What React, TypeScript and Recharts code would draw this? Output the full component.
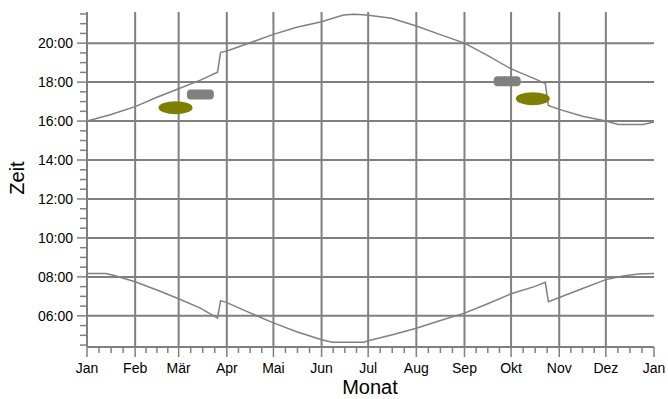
import React from 'react'
import {
  ComposedChart,
  Line,
  Scatter,
  XAxis,
  YAxis,
  ReferenceLine,
} from 'recharts'

// Day of year (0 = 1 Jan) at which each month starts
const monthStarts = [0, 31, 59, 90, 120, 151, 181, 212, 243, 273, 304, 334, 365]
const monthLabels = ['Jan', 'Feb', 'Mär', 'Apr', 'Mai', 'Jun', 'Jul', 'Aug', 'Sep', 'Okt', 'Nov', 'Dez', 'Jan']

// Hour ticks with labels, and the half-hour minor ticks
const hourTicks = [6, 8, 10, 12, 14, 16, 18, 20]
const halfHourTicks = [
  4.5, 5, 5.5, 6, 6.5, 7, 7.5, 8, 8.5, 9, 9.5, 10, 10.5, 11, 11.5, 12, 12.5,
  13, 13.5, 14, 14.5, 15, 15.5, 16, 16.5, 17, 17.5, 18, 18.5, 19, 19.5, 20,
  20.5, 21, 21.5,
]

// Sunset (upper curve), hours
const sunsetDays = [0, 15, 31, 45, 59, 73, 84, 86, 90, 105, 120, 135, 151, 165, 172, 180, 196, 212, 227, 243, 258, 273, 288, 295, 297, 304, 319, 334, 342, 358, 365]
const sunset = [16.0, 16.32, 16.74, 17.22, 17.66, 18.1, 18.51, 19.53, 19.6, 20.02, 20.45, 20.82, 21.1, 21.45, 21.48, 21.45, 21.28, 20.88, 20.45, 20.0, 19.36, 18.68, 18.18, 17.93, 16.8, 16.6, 16.25, 16.0, 15.82, 15.82, 15.95]

// Sunrise (lower curve), hours
const sunriseDays = [0, 12, 17, 31, 45, 59, 73, 84, 86, 90, 105, 120, 135, 151, 158, 172, 178, 181, 196, 212, 227, 243, 258, 273, 288, 295, 297, 304, 319, 334, 345, 355, 365]
const sunrise = [8.17, 8.17, 8.08, 7.75, 7.33, 6.88, 6.4, 5.88, 6.78, 6.68, 6.15, 5.64, 5.18, 4.77, 4.65, 4.65, 4.65, 4.72, 5.02, 5.36, 5.75, 6.14, 6.62, 7.13, 7.5, 7.72, 6.73, 6.94, 7.4, 7.86, 8.05, 8.15, 8.17]

// Marker blobs
const oliveDays = [57, 287]
const oliveHours = [16.69, 17.15]
const greyDays = [73, 270.5]
const greyHours = [17.37, 18.05]

const sunsetData = sunsetDays.map((d, i) => ({ d, t: sunset[i] }))
const sunriseData = sunriseDays.map((d, i) => ({ d, t: sunrise[i] }))
const oliveData = oliveDays.map((d, i) => ({ d, t: oliveHours[i] }))
const greyData = greyDays.map((d, i) => ({ d, t: greyHours[i] }))

// major month ticks plus three minor ticks in between
const xTicks: number[] = []
monthStarts.forEach((m, i) => {
  xTicks.push(m)
  const next = monthStarts[i + 1]
  if (next !== undefined) {
    for (let k = 1; k < 4; k++) xTicks.push(m + ((next - m) * k) / 4)
  }
})

const GREY = '#808080'
const FONT = '"Liberation Sans", Arial, sans-serif'

const XTick = (props: any) => {
  const { x, y, payload } = props
  const idx = monthStarts.indexOf(payload.value)
  const major = idx >= 0
  return (
    <g>
      <line x1={x} x2={x} y1={y - 14} y2={major ? y - 4 : y - 8} stroke={GREY} strokeWidth={1.5} />
      {major && (
        <text x={x} y={y + 12} textAnchor="middle" fontSize={14} fontFamily={FONT} fill="#000">
          {monthLabels[idx]}
        </text>
      )}
    </g>
  )
}

const YTick = (props: any) => {
  const { x, y, payload } = props
  const major = hourTicks.includes(payload.value)
  return (
    <g>
      <line x1={major ? x + 4 : x + 7} x2={x + 14} y1={y} y2={y} stroke={GREY} strokeWidth={1.5} />
      {major && (
        <text x={x} y={y + 5} textAnchor="end" fontSize={14} fontFamily={FONT} fill="#000">
          {String(payload.value).padStart(2, '0') + ':00'}
        </text>
      )}
    </g>
  )
}

const ZeitLabel = () => (
  <text transform="translate(24 178) rotate(-90)" textAnchor="middle" fontSize={20} fontFamily={FONT} fill="#000">
    Zeit
  </text>
)

const MonatLabel = () => (
  <text x={370} y={394} textAnchor="middle" fontSize={20} fontFamily={FONT} fill="#000">
    Monat
  </text>
)

const OliveBlob = (props: any) => (
  <ellipse cx={props.cx} cy={props.cy} rx={17} ry={6.5} fill="#808000" />
)

const GreyBlob = (props: any) => (
  <rect x={props.cx - 13.5} y={props.cy - 5} width={27} height={10} rx={4} fill={GREY} />
)

export default function App() {
  return (
    <div style={{ position: 'absolute', left: 0, top: 0, background: '#fff' }}>
      <ComposedChart width={668} height={399} margin={{ top: 12, right: 14, bottom: 0, left: 0 }}>
        <XAxis
          type="number"
          dataKey="d"
          domain={[0, 365]}
          ticks={xTicks}
          interval={0}
          tickSize={10}
          tickMargin={4}
          tickLine={false}
          tick={(p: any) => <XTick {...p} />}
          axisLine={{ stroke: GREY, strokeWidth: 2 }}
          height={52}
          allowDataOverflow
          label={() => <MonatLabel />}
        />
        <YAxis
          type="number"
          dataKey="t"
          domain={[4.4, 21.6]}
          ticks={halfHourTicks}
          interval={0}
          tickSize={10}
          tickMargin={4}
          tickLine={false}
          tick={(p: any) => <YTick {...p} />}
          axisLine={{ stroke: GREY, strokeWidth: 2 }}
          width={87}
          allowDataOverflow
          label={() => <ZeitLabel />}
        />
        {monthStarts.slice(1, 12).map((m) => (
          <ReferenceLine key={'v' + m} x={m} stroke={GREY} strokeWidth={2} />
        ))}
        {hourTicks.map((h) => (
          <ReferenceLine key={'h' + h} y={h} stroke={GREY} strokeWidth={2} />
        ))}
        <Line data={sunsetData} dataKey="t" type="linear" stroke={GREY} strokeWidth={1.5} dot={false} isAnimationActive={false} />
        <Line data={sunriseData} dataKey="t" type="linear" stroke={GREY} strokeWidth={1.5} dot={false} isAnimationActive={false} />
        <Scatter data={oliveData} dataKey="t" fill="#808000" shape={OliveBlob} isAnimationActive={false} />
        <Scatter data={greyData} dataKey="t" fill={GREY} shape={GreyBlob} isAnimationActive={false} />
      </ComposedChart>
    </div>
  )
}
